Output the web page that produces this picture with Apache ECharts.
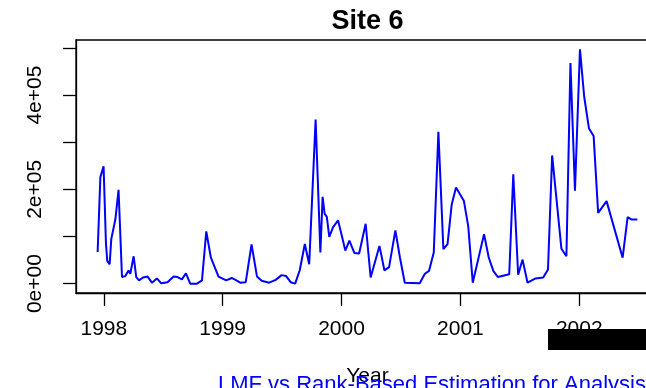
<!DOCTYPE html>
<html><head><meta charset="utf-8">
<script src="https://cdn.jsdelivr.net/npm/echarts@6/dist/echarts.min.js"></script>
<style>html,body{margin:0;padding:0;background:#fff;overflow:hidden;width:646px;height:388px}#c{width:700px;height:388px}</style>
</head><body><div id="c"></div>
<script>
const titleText = "Site 6";
const xAxisTitle = "Year";
const captionText = "LMF vs Rank-Based Estimation for Analysis";

const years = [1997.948,1997.971,1997.998,1998.018,1998.029,1998.049,1998.063,1998.097,1998.124,1998.153,
1998.181,1998.208,1998.223,1998.251,1998.273,1998.296,1998.330,1998.368,1998.405,1998.447,
1998.481,1998.536,1998.587,1998.620,1998.657,1998.691,1998.727,1998.784,1998.826,1998.862,
1998.901,1998.965,1999.030,1999.076,1999.108,1999.148,1999.194,1999.243,1999.289,1999.328,
1999.391,1999.446,1999.496,1999.534,1999.572,1999.610,1999.649,1999.691,1999.728,1999.782,
1999.822,1999.841,1999.858,1999.876,1999.897,1999.929,1999.971,2000.005,2000.032,2000.066,
2000.108,2000.148,2000.203,2000.245,2000.319,2000.361,2000.400,2000.453,2000.491,2000.532,
2000.658,2000.701,2000.736,2000.776,2000.815,2000.857,2000.892,2000.927,2000.963,2001.029,
2001.066,2001.104,2001.199,2001.238,2001.277,2001.315,2001.411,2001.445,2001.486,2001.523,
2001.565,2001.632,2001.697,2001.737,2001.772,2001.850,2001.892,2001.926,2001.964,2002.006,
2002.042,2002.082,2002.121,2002.159,2002.230,2002.365,2002.407,2002.441,2002.489];

const values = [67000,226000,249000,85000,48000,41000,95000,136000,199000,14000,
16000,28000,21000,58000,14000,7000,13000,15000,2000,11000,
1000,3000,15000,14000,9000,22000,0,0,7000,111000,
55000,15000,7000,12000,8000,2000,3000,83000,15000,6000,
2000,8000,18000,16000,3000,0,29000,84000,41000,348000,
66000,184000,148000,142000,99000,120000,134000,99000,70000,91000,
65000,64000,127000,13000,80000,28000,35000,113000,56000,2000,
1000,21000,27000,66000,322000,73000,84000,168000,204000,176000,
122000,2000,105000,56000,27000,14000,20000,232000,19000,51000,
2000,11000,13000,30000,272000,74000,58000,468000,197000,497000,
396000,329000,313000,150000,175000,55000,141000,136000,136000];

const xTicks = [1998,1999,2000,2001,2002];
const xTickLabels = ["1998","1999","2000","2001","2002"];
const yTicks = [0,100000,200000,300000,400000,500000];
const yLabelValues = [0,200000,400000];
const yTickLabels = ["0e+00","2e+05","4e+05"];

const FONT = "Liberation Sans";
const chart = echarts.init(document.getElementById('c'), null, {renderer:'canvas'});
chart.setOption({
  animation: false,
  backgroundColor: '#fff',
  grid: {left: 76, top: 40, width: 583, height: 253, outerBoundsMode: 'none', containLabel: false, show: true, borderColor: '#000', borderWidth: 1.3, backgroundColor: 'transparent'},
  xAxis: {
    type: 'value', min: 1997.766, max: 2002.671,
    axisLine: {show: true, onZero: false, lineStyle: {color: '#000', width: 1.3}},
    axisTick: {show: true, customValues: xTicks, length: 13, lineStyle: {color: '#000', width: 1.3}},
    axisLabel: {customValues: xTicks, formatter: v => xTickLabels[xTicks.indexOf(v)], color: '#000', fontFamily: FONT, fontSize: 21, margin: 26},
    splitLine: {show: false}
  },
  yAxis: {
    type: 'value', min: -19880, max: 516880,
    axisLine: {show: true, onZero: false, lineStyle: {color: '#000', width: 1.3}},
    axisTick: {show: true, customValues: yTicks, length: 13, lineStyle: {color: '#000', width: 1.3}},
    axisLabel: {customValues: yLabelValues, rotate: 90, formatter: v => yTickLabels[yLabelValues.indexOf(v)], color: '#000', fontFamily: FONT, fontSize: 21, margin: 30},
    splitLine: {show: false}
  },
  series: [{
    type: 'line', data: years.map((t, i) => [t, values[i]]),
    showSymbol: false, symbol: 'none',
    lineStyle: {color: '#0000ff', width: 2},
    itemStyle: {color: '#0000ff'}
  }],
  graphic: [
    {type: 'text', x: 367.5, y: 22, style: {text: titleText, fontFamily: FONT, fontWeight: 'bold', fontSize: 27, fill: '#000', align: 'center', verticalAlign: 'middle'}},
    {type: 'rect', z: 100, shape: {x: 548, y: 329, width: 152, height: 21}, style: {fill: '#000'}},
    {type: 'text', x: 367.5, y: 376, style: {text: xAxisTitle, fontFamily: FONT, fontSize: 21, fill: '#000', align: 'center', verticalAlign: 'middle'}},
    {type: 'text', x: 218, y: 385, style: {text: captionText, fontFamily: FONT, fontSize: 22, fill: '#0000ff', align: 'left', verticalAlign: 'middle'}}
  ]
});
</script></body></html>
